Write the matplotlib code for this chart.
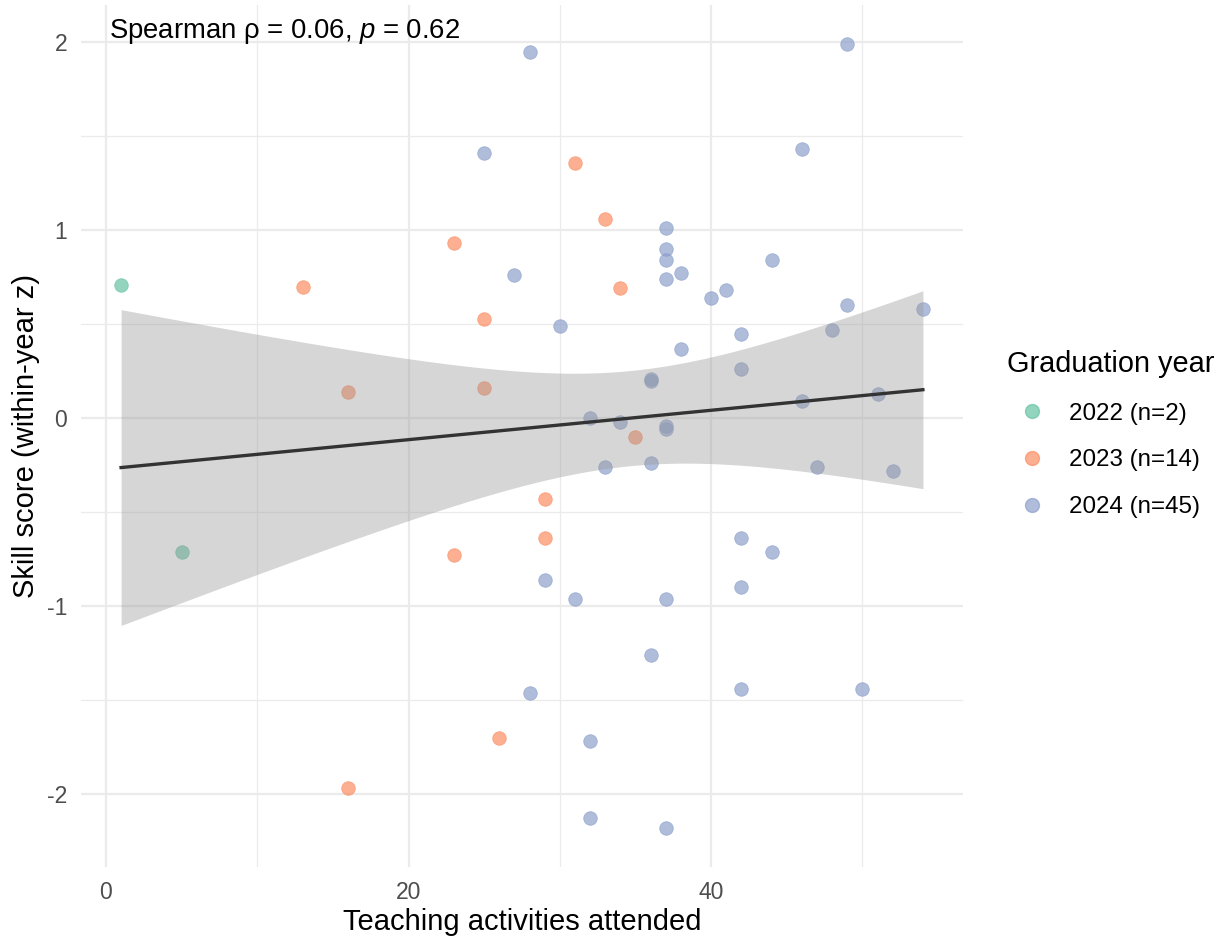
import numpy as np
import matplotlib
matplotlib.use("Agg")
import matplotlib.pyplot as plt
from matplotlib.lines import Line2D

plt.rcParams['font.family'] = ['Liberation Sans', 'DejaVu Sans']
plt.rcParams['mathtext.fontset'] = 'custom'
plt.rcParams['mathtext.rm'] = 'Liberation Sans'
plt.rcParams['mathtext.it'] = 'Liberation Sans:italic'
plt.rcParams['axes.unicode_minus'] = False

# data
x_2022 = [1, 5]
y_2022 = [0.71, -0.71]

x_2023 = [23, 13, 25, 31, 33, 34, 16, 25, 23, 35, 29, 29, 26, 16]
y_2023 = [0.93, 0.70, 0.53, 1.36, 1.06, 0.69, 0.14, 0.16, -0.73, -0.10, -0.43, -0.64, -1.70, -1.97]

x_2024 = [28, 25, 27, 49, 46, 37, 37, 37, 38, 37, 44, 40, 41, 49, 54,
          30, 42, 38, 48, 42, 36, 36, 46, 51, 32, 34, 37, 37, 33, 36,
          47, 52, 42, 44, 29, 42, 31, 37, 36, 28, 42, 50, 32, 32, 37]
y_2024 = [1.95, 1.41, 0.76, 1.99, 1.43, 1.01, 0.90, 0.84, 0.77, 0.74, 0.84, 0.64, 0.68, 0.60, 0.58,
          0.49, 0.45, 0.37, 0.47, 0.26, 0.21, 0.20, 0.09, 0.13, -0.00, -0.02, -0.04, -0.06, -0.26, -0.24,
          -0.26, -0.28, -0.64, -0.71, -0.86, -0.90, -0.96, -0.96, -1.26, -1.46, -1.44, -1.44, -1.72, -2.13, -2.18]

groups = ["2022 (n=2)", "2023 (n=14)", "2024 (n=45)"]
colors = ["#66C2A5", "#FC8D62", "#8DA0CB"]
annot = "Spearman ρ = 0.06, $p$ = 0.62"

xs = [x_2022, x_2023, x_2024]
ys = [y_2022, y_2023, y_2024]

W, H = 1225, 939
fig = plt.figure(figsize=(W / 100, H / 100), dpi=100)
ax = fig.add_axes([81 / W, 1 - 867 / H, (963 - 81) / W, (867 - 5) / H])

for xv, yv, c in zip(xs, ys, colors):
    ax.scatter(xv, yv, s=95, color=c, alpha=0.7, edgecolors=c, linewidths=0.6, zorder=2)

# linear fit with 95% CI
allx = np.array(x_2022 + x_2023 + x_2024, dtype=float)
ally = np.array(y_2022 + y_2023 + y_2024, dtype=float)
n = len(allx)
b1, b0 = np.polyfit(allx, ally, 1)
resid = ally - (b0 + b1 * allx)
s = np.sqrt(np.sum(resid ** 2) / (n - 2))
xg = np.linspace(allx.min(), allx.max(), 80)
yg = b0 + b1 * xg
se = s * np.sqrt(1 / n + (xg - allx.mean()) ** 2 / np.sum((allx - allx.mean()) ** 2))
tcrit = 2.001
ax.fill_between(xg, yg - tcrit * se, yg + tcrit * se, color="#999999", alpha=0.4, linewidth=0, zorder=3)
ax.plot(xg, yg, color="#333333", lw=2.4, zorder=4)

xr = allx.max() - allx.min()
yr = ally.max() - ally.min()
ax.set_xlim(allx.min() - 0.05 * xr, allx.max() + 0.05 * xr)
ax.set_ylim(ally.min() - 0.05 * yr, ally.max() + 0.05 * yr)

ax.set_xticks([0, 20, 40])
ax.set_xticks([10, 30, 50], minor=True)
ax.set_yticks([-2, -1, 0, 1, 2])
ax.set_yticks([-1.5, -0.5, 0.5, 1.5], minor=True)
ax.grid(which="major", color="#EBEBEB", lw=1.6)
ax.grid(which="minor", color="#EBEBEB", lw=0.9)
ax.set_axisbelow(True)
for sp in ax.spines.values():
    sp.set_visible(False)
ax.tick_params(which="both", length=0)
ax.tick_params(axis="x", labelsize=16.5, labelcolor="#4D4D4D", pad=10)
ax.tick_params(axis="y", labelsize=16.5, labelcolor="#4D4D4D", pad=10)

ax.set_xlabel("Teaching activities attended", fontsize=21, labelpad=3)
ax.set_ylabel("Skill score (within-year z)", fontsize=21, labelpad=5)

ax.text(0.2, 2.06, annot, fontsize=19.8, ha="left", va="center", zorder=5)

handles = [Line2D([], [], marker="o", ls="", ms=10, color=c, alpha=0.7) for c in colors]
leg = fig.legend(handles, groups, title="Graduation year", loc="center left",
                 bbox_to_anchor=(988 / W, 1 - 434 / H), frameon=False,
                 fontsize=17.4, title_fontsize=20.8, handlelength=2.0, handletextpad=0.55,
                 labelspacing=1.02, alignment="left", borderpad=0.3)

fig.savefig("out.png", dpi=100)
